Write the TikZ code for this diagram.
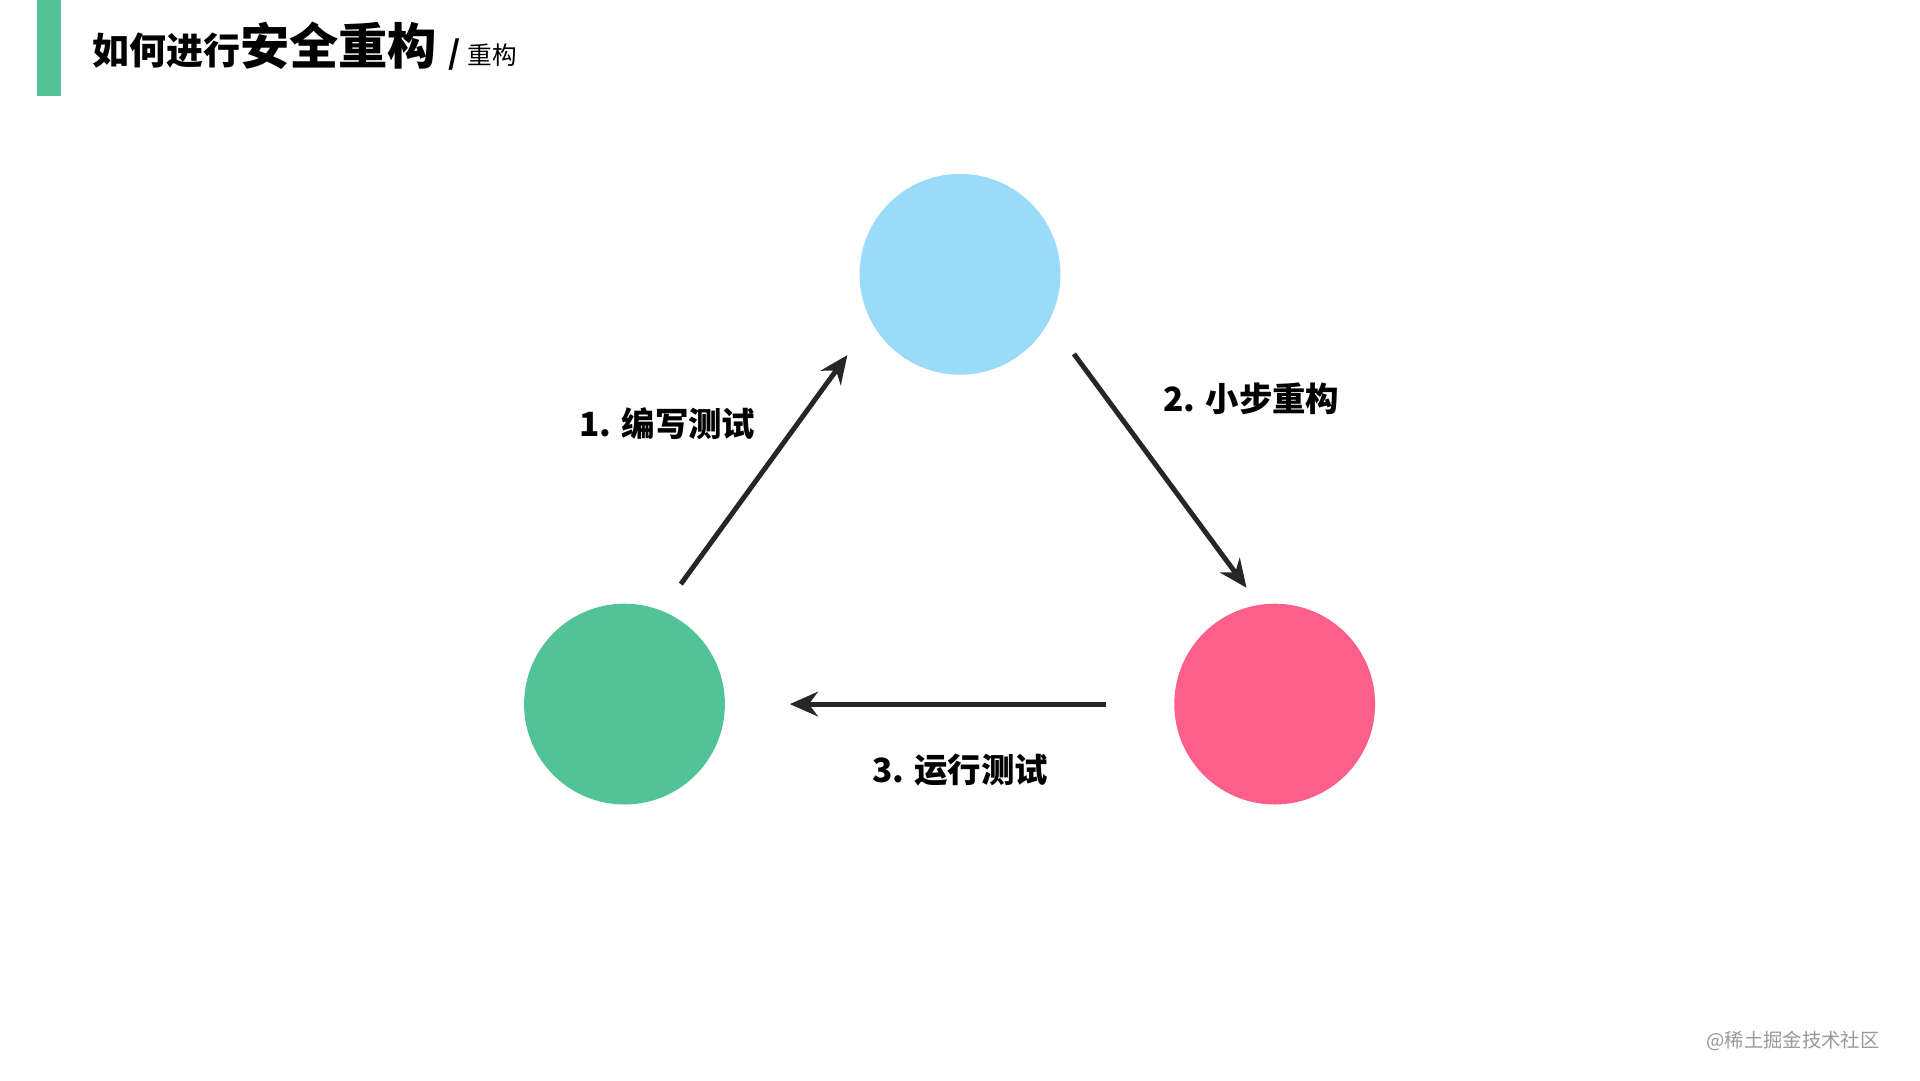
\documentclass[tikz,border=0pt]{standalone}
\usepackage{fontspec}
\setmainfont{Noto Sans CJK SC}
\usetikzlibrary{arrows.meta}
\definecolor{sky}{HTML}{9BDBFA}
\definecolor{leaf}{HTML}{52C394}
\definecolor{rose}{HTML}{FE5F8A}
\begin{document}
\begin{tikzpicture}[x=0.012245cm, y=-0.012245cm]
    % Styles
    \tikzstyle{ball} = [circle, draw=none, minimum size=164*0.012245cm, inner sep=0pt]
    \tikzstyle{arrow} = [-{Stealth[length=8pt,width=7pt]}, line width=1.4pt, black!85]
    \tikzstyle{label} = [font=\bfseries\fontsize{9.5}{11}\selectfont]

    \useasboundingbox[fill=white] (0,0) rectangle (1568,882);

    % Title
    \fill[leaf] (30,0) rectangle (50,78);
    \node[anchor=base west, inner sep=0pt, font=\bfseries] (title) at (75,53)
        {\fontsize{10.5}{12}\selectfont 如何进行\fontsize{14}{16}\selectfont 安全重构\ \fontsize{9}{10}\selectfont /\ \mdseries\fontsize{7}{8}\selectfont 重构};

    % Nodes
    \node[ball, fill=sky] (top) at (784,224) {};
    \node[ball, fill=leaf] (left) at (510,575) {};
    \node[ball, fill=rose] (right) at (1041,575) {};

    % Arrows
    \draw[arrow] ([shift={(46,-98)}]left.center) -- ([shift={(-92,66)}]top.center);
    \draw[arrow] ([shift={(93,65)}]top.center) -- ([shift={(-23,-95)}]right.center);
    \draw[arrow] ([shift={(-138,0)}]right.center) -- ([shift={(135,0)}]left.center);

    % Labels
    \node[label] (l1) at (545,346) {1. 编写测试};
    \node[label] (l2) at (1022,326) {2. 小步重构};
    \node[label] (l3) at (784,629) {3. 运行测试};

    % Watermark
    \node[anchor=east, text=black!40, font=\fontsize{5.5}{6}\selectfont] (mark) at (1545,850) {@稀土掘金技术社区};
\end{tikzpicture}
\end{document}
